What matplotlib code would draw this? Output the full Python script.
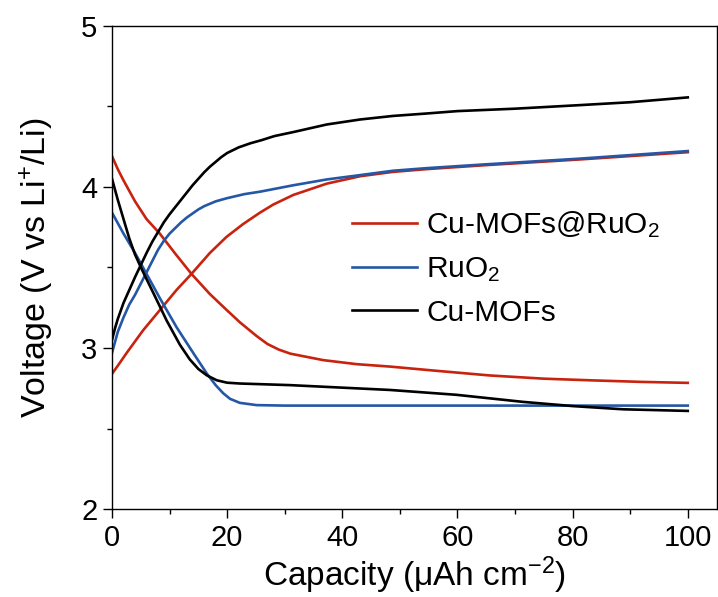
import matplotlib
matplotlib.use("Agg")
import matplotlib.pyplot as plt
from matplotlib.ticker import MultipleLocator

plt.rcParams['font.family'] = ['Liberation Sans', 'DejaVu Sans']
plt.rcParams['mathtext.fontset'] = 'custom'
plt.rcParams['mathtext.rm'] = 'Liberation Sans'
plt.rcParams['mathtext.default'] = 'regular'

# Cu-MOFs@RuO2 (red)
cm_ru_dis_cap = [0, 1, 2, 4, 6, 8.3, 11, 13.8, 17, 19.5, 22.2, 25.1, 27, 29, 31, 36.7, 42.5, 48.3, 56, 65.6, 75, 83, 92, 100]
cm_ru_dis_v = [4.19, 4.11, 4.04, 3.91, 3.80, 3.71, 3.585, 3.46, 3.335, 3.25, 3.16, 3.075, 3.025, 2.99, 2.965, 2.925, 2.90, 2.885, 2.86, 2.83, 2.81, 2.80, 2.79, 2.784]
cm_ru_chg_cap = [0, 1, 2.55, 5.4, 8.3, 11.2, 13.8, 17, 19.9, 22.8, 25.7, 28, 31.5, 37.3, 43.1, 48.8, 54.6, 65, 81.2, 100]
cm_ru_chg_v = [2.84, 2.89, 2.97, 3.11, 3.235, 3.36, 3.46, 3.59, 3.69, 3.77, 3.84, 3.89, 3.95, 4.02, 4.066, 4.093, 4.11, 4.135, 4.17, 4.215]

# RuO2 (blue)
ru_dis_cap = [0, 2, 4, 6, 8.3, 11.2, 14.1, 16.5, 18, 19.3, 20.5, 22.2, 25.1, 30, 50, 80, 100]
ru_dis_v = [3.84, 3.71, 3.59, 3.46, 3.31, 3.13, 2.97, 2.84, 2.77, 2.72, 2.685, 2.66, 2.646, 2.643, 2.643, 2.643, 2.643]
ru_chg_cap = [0, 1, 2, 3, 4, 5, 6, 7, 8, 9, 10, 11, 12, 13, 14, 15, 16, 17, 18, 20, 23, 25.7, 31.5, 37.3, 43.1, 48.8, 54.6, 65, 81.2, 100]
ru_chg_v = [2.97, 3.10, 3.19, 3.27, 3.33, 3.40, 3.47, 3.54, 3.61, 3.665, 3.71, 3.745, 3.78, 3.81, 3.835, 3.86, 3.88, 3.895, 3.91, 3.93, 3.955, 3.97, 4.01, 4.046, 4.073, 4.10, 4.116, 4.14, 4.175, 4.222]

# Cu-MOFs (black)
cm_dis_cap = [0, 1, 2, 3, 4, 5.15, 7.2, 9.5, 11.8, 13.5, 15, 16.5, 18.2, 20, 22.2, 30.9, 39.6, 48.3, 59.8, 71.4, 80, 88.8, 100]
cm_dis_v = [4.05, 3.92, 3.80, 3.68, 3.58, 3.49, 3.34, 3.17, 3.02, 2.93, 2.87, 2.83, 2.80, 2.785, 2.78, 2.77, 2.755, 2.74, 2.71, 2.666, 2.64, 2.62, 2.61]
cm_chg_cap = [0, 0.5, 1, 2, 3, 4, 5, 6, 7, 8, 9, 10, 11, 12, 13, 14, 15, 16, 17, 18, 19, 20, 22, 24, 26, 28.2, 31.5, 37.3, 43.1, 48.8, 54.6, 60, 70, 81.2, 90, 100]
cm_chg_v = [3.05, 3.12, 3.18, 3.28, 3.36, 3.44, 3.515, 3.59, 3.66, 3.72, 3.78, 3.83, 3.875, 3.92, 3.965, 4.01, 4.05, 4.09, 4.125, 4.155, 4.185, 4.21, 4.245, 4.27, 4.29, 4.315, 4.34, 4.387, 4.418, 4.44, 4.455, 4.47, 4.485, 4.507, 4.525, 4.555]

red = '#C8230E'
blue = '#2457A5'
black = '#000000'

fig = plt.figure(figsize=(7.18, 5.97), dpi=100)
ax = fig.add_axes([0.156, 0.147, 0.842, 0.81])

lw = 1.9
ax.plot(cm_ru_dis_cap, cm_ru_dis_v, color=red, lw=lw, label='Cu-MOFs@RuO$_2$')
ax.plot(cm_ru_chg_cap, cm_ru_chg_v, color=red, lw=lw)
ax.plot(ru_dis_cap, ru_dis_v, color=blue, lw=lw, label='RuO$_2$')
ax.plot(ru_chg_cap, ru_chg_v, color=blue, lw=lw)
ax.plot(cm_dis_cap, cm_dis_v, color=black, lw=lw, label='Cu-MOFs')
ax.plot(cm_chg_cap, cm_chg_v, color=black, lw=lw)

ax.set_xlim(0, 105)
ax.set_ylim(2, 5)
ax.xaxis.set_major_locator(MultipleLocator(20))
ax.xaxis.set_minor_locator(MultipleLocator(10))
ax.yaxis.set_major_locator(MultipleLocator(1))
ax.yaxis.set_minor_locator(MultipleLocator(0.5))
ax.tick_params(which='major', direction='out', length=6.5, width=1, labelsize=21, pad=4)
ax.tick_params(which='minor', direction='out', length=3.5, width=1)
for s in ax.spines.values():
    s.set_linewidth(1)

ax.set_xlabel('Capacity (μAh cm$^{-2}$)', fontsize=24, labelpad=2)
ax.set_ylabel('Voltage (V vs Li$^{+}$/Li)', fontsize=24.5, labelpad=18)

ax.legend(loc='upper left', bbox_to_anchor=(0.3965, 0.62), frameon=False,
          fontsize=21.5, handlelength=2.2, handletextpad=0.3, labelspacing=0.5,
          borderpad=0, borderaxespad=0)

fig.savefig('out.png', dpi=100)
